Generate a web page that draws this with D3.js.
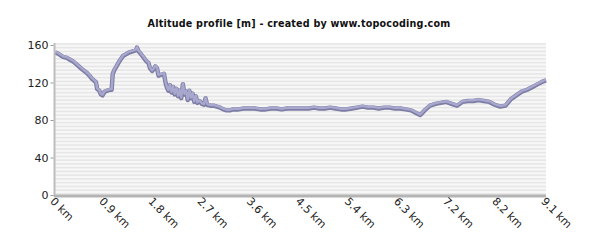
<!DOCTYPE html>
<html><head><meta charset="utf-8">
<script src="https://cdn.jsdelivr.net/npm/d3@7"></script>
<style>body{margin:0;background:#fff}svg{display:block}</style>
</head><body>
<svg id="c" width="600" height="250"></svg>
<script>
const title = "Altitude profile [m] - created by www.topocoding.com";
const xTickLabels = ["0 km","0.9 km","1.8 km","2.7 km","3.6 km","4.5 km","5.4 km","6.3 km","7.2 km","8.2 km","9.1 km"];
const yTicks = [0,40,80,120,160];
const distKm = [0.00,0.04,0.10,0.15,0.22,0.28,0.34,0.40,0.46,0.52,0.59,0.64,0.68,0.72,0.76,0.78,0.82,0.85,0.88,0.92,0.97,1.02,1.05,1.07,1.10,1.15,1.20,1.26,1.32,1.38,1.44,1.50,1.52,1.55,1.58,1.62,1.66,1.70,1.73,1.76,1.80,1.83,1.86,1.89,1.92,1.96,2.02,2.05,2.07,2.10,2.13,2.16,2.19,2.22,2.25,2.28,2.31,2.34,2.37,2.40,2.43,2.46,2.49,2.52,2.55,2.58,2.61,2.64,2.68,2.72,2.76,2.79,2.82,2.88,2.94,3.00,3.06,3.12,3.18,3.24,3.30,3.40,3.50,3.60,3.70,3.80,3.90,4.00,4.10,4.20,4.30,4.40,4.50,4.60,4.70,4.80,4.90,5.00,5.10,5.20,5.30,5.40,5.50,5.60,5.70,5.80,5.90,6.00,6.10,6.20,6.30,6.40,6.50,6.60,6.70,6.77,6.85,6.95,7.05,7.15,7.25,7.35,7.45,7.55,7.65,7.75,7.85,7.95,8.05,8.15,8.25,8.35,8.45,8.55,8.65,8.75,8.85,8.95,9.05,9.10];
const altitude = [153,152,150,148,147,145,143,140,137,134,131,128,125,123,121,114,112,108,107,111,112,113,113,130,134,139,144,149,151,153,154,155,158,154,152,149,146,143,142,136,133,135,138,136,128,129,130,120,116,112,118,110,116,108,114,106,112,104,119,108,111,102,112,104,109,100,106,99,101,98,97,104,97,96,96,95,94,92,91,91,92,92,93,93,93,92,92,93,93,92,93,93,93,93,93,94,93,93,94,93,92,92,93,94,95,94,94,93,94,94,93,93,92,91,88,86,91,96,98,99,100,98,96,100,101,101,102,101,100,97,95,96,103,107,111,113,116,119,122,123];

const svg = d3.select("#c");
const L = 55, R = 546, T = 45, B = 195;
const x = d3.scaleLinear().domain([0, 9.1]).range([L, R]);
const y = d3.scaleLinear().domain([0, 160]).range([B, T]);

// striped background
const g = svg.append("g");
g.append("rect").attr("x", L).attr("y", y(161)).attr("width", R - L).attr("height", B - y(161)).attr("fill", "#f7f7f7");
const stripes = d3.range(0, 162, 4);
g.selectAll("rect.s").data(stripes).enter().append("rect")
  .attr("x", L).attr("width", R - L)
  .attr("y", d => y(d + 2)).attr("height", d => y(d) - y(d + 2) - 0.3)
  .attr("fill", "#e6e6e6");

// title
svg.append("text").attr("x", 299).attr("y", 27).attr("text-anchor", "middle")
  .attr("font-family", "DejaVu Sans").attr("font-weight", "bold").attr("font-size", 9.6)
  .attr("fill", "#111").attr("letter-spacing", 0.2).text(title);

// line
const pts = distKm.map((d, i) => [d, altitude[i]]);
const line = d3.line().x(d => x(d[0])).y(d => y(d[1]));
svg.append("path").datum(pts).attr("d", line).attr("fill", "none")
  .attr("stroke", "#7c7ca4").attr("stroke-width", 4.4).attr("transform", "translate(0,0.7)").attr("stroke-linejoin", "round");
svg.append("path").datum(pts).attr("d", line).attr("fill", "none")
  .attr("stroke", "#a8a8ce").attr("stroke-width", 2.4).attr("stroke-linejoin", "round");

// axes
svg.append("line").attr("x1", L - 0.5).attr("x2", L - 0.5).attr("y1", T - 2).attr("y2", B + 2)
  .attr("stroke", "#bdbdbd").attr("stroke-width", 2);
svg.append("line").attr("x1", L - 1).attr("x2", R).attr("y1", B + 1).attr("y2", B + 1)
  .attr("stroke", "#b4b4b4").attr("stroke-width", 3);

const yAxis = svg.append("g").attr("transform", `translate(${L - 1.5},0)`)
  .call(d3.axisLeft(y).tickValues(yTicks).tickSize(3).tickPadding(2).tickFormat(d3.format("d")));
yAxis.select(".domain").remove();
yAxis.selectAll("line").attr("stroke", "#999");
yAxis.selectAll("text").attr("font-family", "DejaVu Sans").attr("font-size", 11).attr("fill", "#222");

const xTicks = xTickLabels.map((_, i) => i * 9.1 / 10);
const xAxis = svg.append("g").attr("transform", `translate(0,${B + 2})`)
  .call(d3.axisBottom(x).tickValues(xTicks).tickSize(0).tickFormat((d, i) => xTickLabels[i]));
xAxis.select(".domain").remove();
xAxis.selectAll("text").attr("font-family", "DejaVu Sans").attr("font-size", 11).attr("fill", "#222")
  .attr("text-anchor", "start").attr("dy", null).attr("y", 0)
  .attr("transform", "translate(-6,5) rotate(45)");
</script>
</body></html>
